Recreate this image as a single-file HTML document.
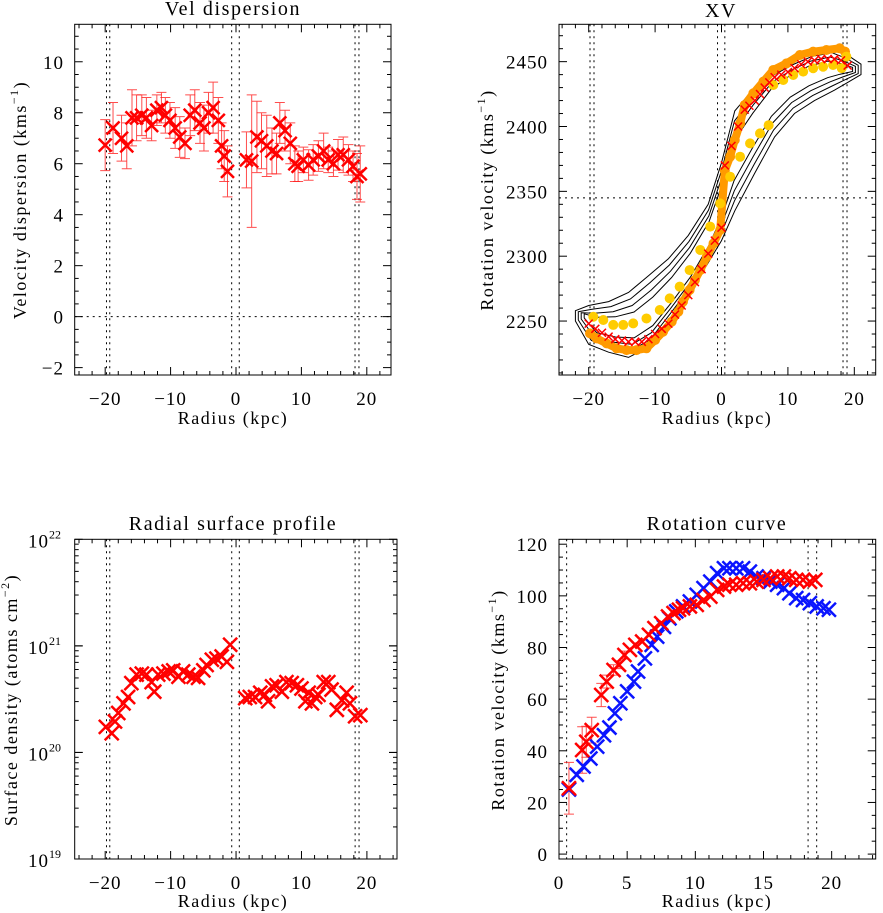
<!DOCTYPE html>
<html><head><meta charset="utf-8"><style>
html,body{margin:0;padding:0;background:#fff;}
svg{display:block;font-family:"Liberation Serif",serif;}
</style></head><body>
<svg id="fig" width="883" height="913" viewBox="0 0 883 913" xmlns="http://www.w3.org/2000/svg"></svg>
<script>
// ---------- Panel 1 data: velocity dispersion ----------
const dispX = [-20.0,-18.8,-17.5,-16.7,-15.9,-15.2,-14.4,-13.7,-12.9,-12.1,-11.4,-10.8,-10.1,-9.3,-8.6,-7.8,-7.0,-6.3,-5.5,-4.9,-4.2,-3.5,-2.7,-2.2,-1.8,-1.3,
  1.6,2.4,3.2,3.9,4.7,5.5,6.2,6.7,7.5,8.3,9.0,9.5,10.3,11.1,11.8,12.6,13.4,14.1,14.9,15.6,16.4,17.2,17.9,18.5,19.0];
const dispY = [6.73,7.4,7.0,6.7,7.8,7.8,7.9,7.8,7.5,8.1,8.2,7.9,7.7,7.4,7.05,6.8,7.9,8.1,7.6,7.4,8.0,8.2,7.7,6.7,6.3,5.7,
  6.15,6.1,7.05,6.9,6.7,6.5,6.4,7.6,7.3,6.8,6.0,5.9,6.15,5.95,6.15,6.3,6.5,6.15,6.0,6.35,6.35,6.15,5.9,5.5,5.6];
const dispErr = [1.0,1.0,0.9,0.9,1.1,0.9,0.8,0.8,0.6,0.6,0.6,0.7,0.7,0.8,0.8,0.6,0.8,0.8,0.8,0.9,0.8,1.0,0.9,0.9,1.0,1.0,
  1.1,2.6,1.4,1.1,1.2,0.9,0.8,0.8,0.8,0.8,0.7,0.6,0.5,0.6,0.6,0.6,0.7,0.5,0.5,0.6,0.7,0.6,0.6,0.9,1.1];
const dispXTicks = [-20,-10,0,10,20];
const dispYTicks = [-2,0,2,4,6,8,10];

// ---------- Panel 2 data: XV diagram ----------
const xvOrangeX = [-19.8,-18.8,-17.3,-15.8,-14.3,-12.8,-11.3,-10.0,-8.8,-7.5,-6.5,-5.8,-4.8,-4.0,-3.2,-2.2,-1.2,-0.2,0.5,1.3,2.0,2.8,3.5,4.8,6.3,7.8,9.8,11.8,13.8,15.8,17.8,18.6];
const xvOrangeV = [2240.5,2236.6,2232.8,2229,2227.6,2227.6,2229,2235.4,2241.8,2249.5,2257.2,2264.9,2274,2281.6,2289.3,2299.6,2309.9,2320.2,2366,2376.7,2389.6,2402.4,2416.6,2425.6,2434.6,2443.6,2448.7,2455.1,2457.7,2459,2460.3,2457.7];
const xvRedX = [-20,-19,-18,-17,-16,-15,-14,-13,-12,-11,-10,-9,-8,-7,-6,-5,-4,-3,-2,-1,0,0.5,1.5,2.5,3.5,4.2,5,5.8,6.5,7.2,8,9,10,11,12,13,14,15,16,17,18,19];
const xvRedV = [2248,2244,2241,2238,2236,2235,2234,2234,2234,2236,2240,2244,2248,2255,2262,2270,2280,2290,2302,2312,2322,2370,2385,2400,2413,2416,2420,2425,2430,2434,2438,2440,2442,2445,2448,2450,2451,2452,2452,2452,2451,2447];
const xvYellowX = [-19.3,-17.8,-16.3,-14.8,-13.3,-11.3,-9.3,-7.8,-6.3,-4.8,-3.2,-1.7,-0.2,1.3,2.8,4.3,5.8,7.1,7.8,9.3,10.8,12.3,13.8,15.3,16.8,18.1,18.8];
const xvYellowV = [2253.3,2250.8,2247,2247,2248.2,2252,2258.5,2267.5,2276.5,2289.3,2304.8,2322.8,2340.7,2361.3,2376.7,2387,2394.7,2401,2432,2435.9,2439.7,2442.3,2444.9,2446.1,2447.4,2445,2453.9];
const xvContourX = [-22,-20,-17,-14,-11,-8,-5,-2,0,2,5,8,11,14,17,19,21];
const xvContourUpper = [2258,2262,2265,2272,2285,2298,2316,2340,2372,2412,2430,2445,2452,2458,2460,2455,2448];
const xvContourLower = [2250,2232,2226,2222,2230,2250,2270,2295,2312,2335,2364,2392,2410,2420,2428,2434,2440];
const xvXTicks = [-20,-10,0,10,20];
const xvYTicks = [2250,2300,2350,2400,2450];

// ---------- Panel 3 data: radial surface profile (log10 atoms cm^-2) ----------
const surfX = [-19.9,-19.0,-18.5,-18.0,-17.2,-16.5,-16.0,-15.2,-14.4,-13.7,-12.9,-12.5,-11.9,-11.1,-10.3,-9.6,-8.8,-8.1,-7.3,-6.5,-5.8,-5.0,-4.5,-3.7,-3.0,-2.2,-1.4,-0.9,
  1.4,2.1,2.9,3.7,4.4,4.9,5.5,6.2,7.0,7.7,8.5,9.3,10.0,10.6,11.1,11.6,12.1,12.6,13.4,14.1,14.6,15.4,16.2,16.9,17.4,18.2,19.0];
const surfLog = [20.24,20.18,20.29,20.37,20.46,20.52,20.65,20.73,20.74,20.73,20.66,20.57,20.73,20.74,20.76,20.77,20.71,20.76,20.73,20.71,20.70,20.77,20.82,20.87,20.88,20.90,20.85,21.01,
  20.51,20.52,20.52,20.56,20.54,20.48,20.62,20.63,20.57,20.66,20.65,20.63,20.60,20.48,20.56,20.46,20.52,20.54,20.66,20.66,20.59,20.40,20.49,20.56,20.46,20.34,20.35];
const surfXTicks = [-20,-10,0,10,20];
const surfYDecades = [19,20,21,22];

// ---------- Panel 4 data: rotation curve ----------
const rcBlueX = [0.73,1.3,1.8,2.3,2.8,3.3,3.7,4.1,4.5,5.0,5.5,5.8,6.3,6.8,7.2,7.7,8.1,8.6,9.1,9.6,10.1,10.6,11.1,11.6,12.1,12.5,13.0,13.5,14.0,14.5,15.0,15.5,16.0,16.5,16.9,17.4,17.9,18.4,18.9,19.4,19.8];
const rcBlueV = [25,30.7,33.9,37,41.6,46,49,54.5,58.4,63,66.8,70.7,75.8,81,84.2,88,91.3,94,95.9,97.8,100.4,103,105.5,108.8,110.7,110.7,110.7,110.7,109.4,107.5,106.8,105.5,104.3,103,101,99.1,98.4,97.2,95.9,95.2,94.6];
const rcRedX = [0.73,1.7,2.0,2.4,3.1,3.5,4.0,4.4,4.8,5.2,5.6,6.1,6.6,7.0,7.5,8.0,8.4,8.8,9.1,9.6,10.1,10.6,11.1,11.6,12.1,12.5,13.0,13.5,14.0,14.5,15.0,15.5,16.0,16.5,16.9,17.4,17.9,18.4,18.8];
const rcRedV = [25.5,40.3,43.5,48,61.6,66.8,71.3,73.3,77.1,79.1,81,82.3,84.9,87.5,89.4,92,93.3,94.6,95.2,95.9,96.5,98.4,99.7,102.3,103.6,104.3,104.3,104.9,104.9,105.5,106.2,106.8,107.5,107.5,106.8,106.2,106.2,105.5,106.2];
const rcRedErr = [10,9,6,5,4.5,2.5,2,1.5,1.5,1.2,1.2,1,1,1,1,1,1,1,1,1,1,1,1,1,1,1,1,1,1,1,1,1,1,1,1,1,1,1,1];
const rcXTicks = [0,5,10,15,20];
const rcYTicks = [0,20,40,60,80,100,120];

// ---------- rendering ----------
const NS = "http://www.w3.org/2000/svg";
const svg = document.getElementById('fig');
function el(tag, attrs, parent) {
  const e = document.createElementNS(NS, tag);
  for (const k in attrs) e.setAttribute(k, attrs[k]);
  (parent || svg).appendChild(e);
  return e;
}
function lin(d0, d1, p0, p1) { return v => p0 + (v - d0) * (p1 - p0) / (d1 - d0); }

function frame(g, P) {
  const r = el('rect', {x:P.l, y:P.t, width:P.r-P.l, height:P.b-P.t, fill:'none', stroke:'#000', 'stroke-width':1}, g);
  
  
}
function ticksX(g, P, sx, majors, minorStep, d0, d1) {
  for (let v = Math.ceil(d0 / minorStep) * minorStep; v <= d1 + 1e-9; v += minorStep) {
    const isMaj = majors.some(m => Math.abs(m - v) < 1e-6);
    const L = isMaj ? 8 : 4, x = sx(v);
    el('line', {x1:x, y1:P.b, x2:x, y2:P.b-L, stroke:'#000', 'stroke-width':1}, g);
    el('line', {x1:x, y1:P.t, x2:x, y2:P.t+L, stroke:'#000', 'stroke-width':1}, g);
  }
  majors.forEach(m => {
    const t = el('text', {x:sx(m), y:P.b+30, 'font-size':19, 'letter-spacing':'1', 'text-anchor':'middle'}, g);
    t.textContent = (m < 0 ? '\u2212' + (-m) : '' + m);
    
    
  });
}
function ticksY(g, P, sy, majors, minorStep, d0, d1, labelX) {
  for (let v = Math.ceil(d0 / minorStep) * minorStep; v <= d1 + 1e-9; v += minorStep) {
    const isMaj = majors.some(m => Math.abs(m - v) < 1e-6);
    const L = isMaj ? 8 : 4, y = sy(v);
    el('line', {x1:P.l, y1:y, x2:P.l+L, y2:y, stroke:'#000', 'stroke-width':1}, g);
    el('line', {x1:P.r, y1:y, x2:P.r-L, y2:y, stroke:'#000', 'stroke-width':1}, g);
  }
  majors.forEach(m => {
    const t = el('text', {x:labelX, y:sy(m)+7, 'font-size':19, 'letter-spacing':'1', 'text-anchor':'end'}, g);
    t.textContent = (m < 0 ? '\u2212' + (-m) : '' + m);
    
    
  });
}
function vdash(g, P, x) {
  el('line', {x1:x, y1:P.t, x2:x, y2:P.b, stroke:'#000', 'stroke-width':1, 'stroke-dasharray':'2,4'}, g);
}
function hdash(g, P, y) {
  el('line', {x1:P.l, y1:y, x2:P.r, y2:y, stroke:'#000', 'stroke-width':1, 'stroke-dasharray':'2,4'}, g);
}
function cross(g, x, y, s, color, w) {
  el('path', {d:`M${x-s},${y-s}L${x+s},${y+s}M${x-s},${y+s}L${x+s},${y-s}`, stroke:color, 'stroke-width':w, fill:'none'}, g);
}
function errbar(g, x, y0, y1, color, cap) {
  el('path', {d:`M${x},${y0}L${x},${y1}M${x-cap},${y0}L${x+cap},${y0}M${x-cap},${y1}L${x+cap},${y1}`, stroke:color, 'stroke-width':1, fill:'none', opacity:0.8}, g);
}
function title(g, x, y, txt) {
  const t = el('text', {x:x, y:y, 'font-size':20, 'text-anchor':'middle', 'letter-spacing':'1.6'}, g);
  t.textContent = txt;
  
  
}
function xtitle(g, x, y) {
  const t = el('text', {x:x, y:y, 'font-size':18, 'text-anchor':'middle', 'letter-spacing':'1.5'}, g);
  t.textContent = 'Radius (kpc)';
  
  
}
function ytitle(g, x, y, main, sup, close) {
  const t = el('text', {transform:`translate(${x},${y}) rotate(-90)`, 'font-size':18, 'text-anchor':'middle', 'letter-spacing':'1.5'}, g);
  
  
  const a = el('tspan', {}, t); a.textContent = main;
  const b = el('tspan', {dy:-8, 'font-size':12}, t); b.textContent = sup;
  const c = el('tspan', {dy:8}, t); c.textContent = close;
}

// ===== Panel 1 =====
(function(){
  const P = {l:74.7, r:391, t:24.3, b:375};
  const X0=-24.66, X1=23.7, Y0=-2.29, Y1=11.47;
  const sx = lin(X0, X1, P.l, P.r), sy = lin(Y0, Y1, P.b, P.t);
  const g = el('g', {});
  
  
  title(g, 233, 15, 'Vel dispersion');
  [-19.8,-19.3,-0.66,0.5,18.2,18.8].forEach(v => vdash(g, P, sx(v)));
  hdash(g, P, sy(0));
  dispX.forEach((x, i) => errbar(g, sx(x), sy(dispY[i]-dispErr[i]), sy(dispY[i]+dispErr[i]), '#ff2020', 5));
  dispX.forEach((x, i) => {
    const m = el('g', {}, g);
    
    
    cross(m, sx(x), sy(dispY[i]), 6.5, '#ff0000', 2.5);
  });
  frame(g, P);
  ticksX(g, P, sx, dispXTicks, 2, X0, X1);
  ticksY(g, P, sy, dispYTicks, 0.5, Y0, Y1, 64);
  xtitle(g, 233, 424);
  ytitle(g, 26, 200, 'Velocity dispersion (kms', '\u22121', ')');
})();

// ===== Panel 2 =====
(function(){
  const P = {l:559, r:875.7, t:24.3, b:375};
  const X0=-24.47, X1=23.22, Y0=2208.4, Y1=2478.8;
  const sx = lin(X0, X1, P.l, P.r), sy = lin(Y0, Y1, P.b, P.t);
  const g = el('g', {});
  
  
  title(g, 721, 17, 'XV');
  [0, 0.2, 0.4, 0.6].forEach((f, k) => {
    const up = xvContourX.map((x, i) => {
      const mid = (xvContourUpper[i] + xvContourLower[i]) / 2;
      return [x * (1 - f * 0.1), xvContourUpper[i] + (mid - xvContourUpper[i]) * f];
    });
    const lo = xvContourX.map((x, i) => {
      const mid = (xvContourUpper[i] + xvContourLower[i]) / 2;
      return [x * (1 - f * 0.1), xvContourLower[i] + (mid - xvContourLower[i]) * f];
    }).reverse();
    const pts = up.concat(lo).map(p => sx(p[0]).toFixed(1) + ',' + sy(p[1]).toFixed(1)).join(' ');
    const c = el('polygon', {points:pts, fill:'none', stroke:'#000', 'stroke-width':1}, g);
    
    
  });
  [-19.8,-19.2,-0.6,0.5,18.3,18.9].forEach(v => vdash(g, P, sx(v)));
  hdash(g, P, sy(2345));
  xvOrangeX.forEach((x, i) => {
    const d = el('circle', {cx:sx(x), cy:sy(xvOrangeV[i]), r:5, fill:'#ff9a00'}, g);
    
    
  });
  for (let i = 1; i < xvOrangeX.length; i++) {
    if (xvOrangeX[i] - xvOrangeX[i-1] < 2.5)
      el('line', {x1:sx(xvOrangeX[i-1]), y1:sy(xvOrangeV[i-1]), x2:sx(xvOrangeX[i]), y2:sy(xvOrangeV[i]), stroke:'#ff9a00', 'stroke-width':8, 'stroke-linecap':'round'}, g);
  }
  xvYellowX.forEach((x, i) => {
    const d = el('circle', {cx:sx(x), cy:sy(xvYellowV[i]), r:5, fill:'#ffcc00'}, g);
    
    
  });
  xvRedX.forEach((x, i) => {
    const m = el('g', {}, g);
    
    
    cross(m, sx(x), sy(xvRedV[i]), 4, '#ff0000', 1.5);
  });
  frame(g, P);
  ticksX(g, P, sx, xvXTicks, 2, X0, X1);
  ticksY(g, P, sy, xvYTicks, 10, Y0, Y1, 548);
  xtitle(g, 717, 424);
  ytitle(g, 493, 200, 'Rotation velocity (kms', '\u22121', ')');
})();

// ===== Panel 3 =====
(function(){
  const P = {l:74.7, r:397, t:539.3, b:859};
  const X0=-24.66, X1=24.6;
  const sx = lin(X0, X1, P.l, P.r), sy = lin(19, 22, P.b, P.t);
  const g = el('g', {});
  
  
  title(g, 233, 530, 'Radial surface profile');
  [-19.8,-19.3,-0.66,0.5,18.2,18.8].forEach(v => vdash(g, P, sx(v)));
  surfX.forEach((x, i) => {
    const m = el('g', {}, g);
    
    
    cross(m, sx(x), sy(surfLog[i]), 7, '#ff0000', 2.5);
  });
  frame(g, P);
  ticksX(g, P, sx, surfXTicks, 2, X0, X1);
  for (let d = 19; d < 22; d++) {
    for (let k = 1; k <= 10; k++) {
      const y = sy(d + Math.log10(k));
      const L = (k === 1 || k === 10) ? 8 : 4;
      el('line', {x1:P.l, y1:y, x2:P.l+L, y2:y, stroke:'#000', 'stroke-width':1}, g);
      el('line', {x1:P.r, y1:y, x2:P.r-L, y2:y, stroke:'#000', 'stroke-width':1}, g);
    }
  }
  surfYDecades.forEach(d => {
    const t = el('text', {x:49, y:sy(d)+8, 'font-size':19, 'letter-spacing':'1', 'text-anchor':'end'}, g);
    t.textContent = '10';
    
    
    const s = el('text', {x:49, y:sy(d)-1, 'font-size':12, 'text-anchor':'start'}, g);
    s.textContent = '' + d;
  });
  xtitle(g, 233, 907);
  ytitle(g, 17, 700, 'Surface density (atoms cm', '\u22122', ')');
})();

// ===== Panel 4 =====
(function(){
  const P = {l:559, r:875.7, t:539.3, b:859};
  const X0=0, X1=23.23, Y0=-1.9, Y1=121.9;
  const sx = lin(X0, X1, P.l, P.r), sy = lin(Y0, Y1, P.b, P.t);
  const g = el('g', {});
  
  
  title(g, 717, 530, 'Rotation curve');
  [0.56,18.27,18.9].forEach(v => vdash(g, P, sx(v)));
  rcRedX.forEach((x, i) => { if (rcRedErr[i] > 1.2) errbar(g, sx(x), sy(rcRedV[i]-rcRedErr[i]), sy(rcRedV[i]+rcRedErr[i]), '#ff2020', 5); });
  rcBlueX.forEach((x, i) => {
    const m = el('g', {}, g);
    
    
    cross(m, sx(x), sy(rcBlueV[i]), 7, '#0a14ff', 2.5);
  });
  rcRedX.forEach((x, i) => {
    const m = el('g', {}, g);
    
    
    cross(m, sx(x), sy(rcRedV[i]), 7, '#ff0000', 2.5);
  });
  frame(g, P);
  ticksX(g, P, sx, rcXTicks, 1, X0, X1);
  ticksY(g, P, sy, rcYTicks, 5, Y0, Y1, 548);
  xtitle(g, 717, 907);
  ytitle(g, 504, 700, 'Rotation velocity (kms', '\u22121', ')');
})();
</script>
</body></html>
